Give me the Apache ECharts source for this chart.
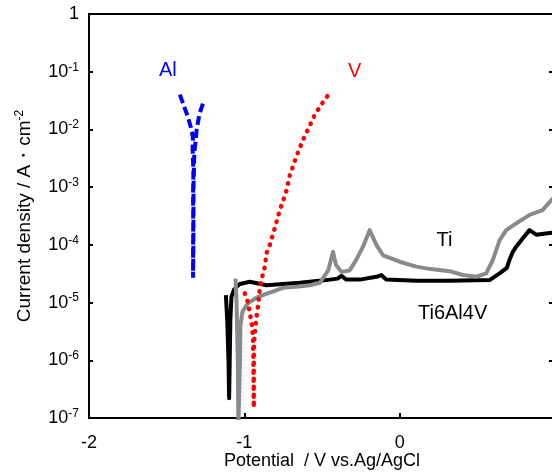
<!DOCTYPE html>
<html>
<head>
<meta charset="utf-8">
<script src="https://cdn.jsdelivr.net/npm/echarts@6/dist/echarts.min.js"></script>
<style>
  html, body { margin: 0; padding: 0; background: #fff; }
  #chart { width: 552px; height: 472px; }
</style>
</head>
<body>
<div id="chart"></div>
<script>
// potential (V vs. Ag/AgCl), current density (A/cm2)
const alCurve = [
  [-1.415, 0.040], [-1.39, 0.026], [-1.363, 0.0164], [-1.345, 0.011], [-1.331, 0.0074],
  [-1.333, 0.0044], [-1.328, 0.002], [-1.330, 0.0008], [-1.329, 2e-4], [-1.330, 8e-5],
  [-1.330, 2.7e-5], [-1.328, 1e-4], [-1.327, 1e-3], [-1.322, 0.004], [-1.315, 0.0058],
  [-1.307, 0.0098], [-1.29, 0.018], [-1.26, 0.032]
];
const vCurve = [
  [-0.997, 1.45e-5], [-0.975, 9.8e-6], [-0.965, 6.5e-6], [-0.954, 4.7e-6], [-0.948, 3.3e-6],
  [-0.944, 2.2e-6], [-0.941, 1e-6], [-0.939, 1.5e-7], [-0.939, 7.8e-7], [-0.938, 1.95e-6],
  [-0.926, 4.4e-6], [-0.918, 6.6e-6], [-0.911, 9.1e-6], [-0.90, 1.8e-5], [-0.89, 2.45e-5],
  [-0.868, 4.2e-5], [-0.857, 7.2e-5], [-0.836, 1e-4], [-0.804, 1.95e-4], [-0.772, 4e-4],
  [-0.733, 7.9e-4], [-0.707, 1.6e-3], [-0.665, 3.4e-3], [-0.622, 6.6e-3], [-0.547, 0.0178],
  [-0.50, 0.028], [-0.45, 0.043]
];
const tiCurve = [
  [-1.057, 2.6e-5], [-1.05, 1e-5], [-1.042, 1e-6], [-1.038, 8e-8], [-1.030, 8e-8],
  [-1.028, 1e-6], [-1.025, 4e-6], [-1.012, 7e-6], [-0.976, 9.8e-6], [-0.911, 1.26e-5],
  [-0.85, 1.45e-5], [-0.75, 1.8e-5], [-0.65, 1.9e-5], [-0.579, 2.0e-5], [-0.514, 2.2e-5],
  [-0.46, 3.6e-5], [-0.429, 7.6e-5], [-0.41, 4.5e-5], [-0.375, 3.4e-5], [-0.322, 3.6e-5],
  [-0.28, 5.5e-5], [-0.236, 9.3e-5], [-0.193, 1.8e-4], [-0.15, 1.0e-4], [-0.107, 6.6e-5],
  [0.0, 5.1e-5], [0.107, 4.2e-5], [0.2, 3.8e-5], [0.321, 3.5e-5], [0.407, 3.0e-5],
  [0.493, 2.8e-5], [0.557, 3.2e-5], [0.60, 5.5e-5], [0.643, 1.2e-4], [0.686, 1.8e-4],
  [0.75, 2.35e-4], [0.836, 3.3e-4], [0.92, 4.0e-4], [0.965, 5.5e-4], [1.0, 7e-4]
];
const ti64Curve = [
  [-1.119, 1.35e-5], [-1.11, 5e-6], [-1.102, 1e-6], [-1.098, 2.2e-7], [-1.094, 1e-6],
  [-1.09, 5e-6], [-1.083, 1.26e-5], [-1.065, 1.7e-5], [-1.051, 1.86e-5], [-1.029, 2.1e-5],
  [-0.965, 2.3e-5], [-0.857, 2.0e-5], [-0.75, 2.1e-5], [-0.643, 2.2e-5], [-0.472, 2.45e-5],
  [-0.40, 2.6e-5], [-0.375, 2.9e-5], [-0.343, 2.5e-5], [-0.257, 2.5e-5], [-0.15, 2.8e-5],
  [-0.118, 3.0e-5], [-0.086, 2.5e-5], [0.107, 2.4e-5], [0.32, 2.4e-5], [0.579, 2.45e-5],
  [0.643, 3.2e-5], [0.69, 4.0e-5], [0.707, 5.5e-5], [0.729, 7.6e-5], [0.75, 9.3e-5],
  [0.793, 1.3e-4], [0.836, 1.8e-4], [0.879, 1.5e-4], [0.965, 1.6e-4], [1.0, 1.65e-4]
];

const FONT = 'Liberation Sans, Arial, sans-serif';

function textMark(text, coord, color) {
  return {
    symbol: 'circle',
    symbolSize: 0,
    silent: true,
    data: [{ coord: coord, value: text }],
    label: {
      show: true,
      position: 'inside',
      formatter: text,
      color: color,
      fontSize: 20,
      fontFamily: FONT
    }
  };
}

const chart = echarts.init(document.getElementById('chart'));

const yTickLabel = {
  color: '#000',
  fontSize: 18,
  fontFamily: FONT,
  margin: 10,
  formatter: function (v) {
    const e = Math.round(Math.log10(v));
    return e === 0 ? '1' : '10{s|' + e + '}';
  },
  rich: {
    s: { fontSize: 12, fontFamily: FONT, color: '#000', padding: [0, 0, 9, 0] }
  }
};

chart.setOption({
  animation: false,
  grid: {
    left: 89, right: -3, top: 14, bottom: 54,
    outerBoundsMode: 'none',
    containLabel: false,
    show: true, borderColor: '#000', borderWidth: 2
  },
  xAxis: {
    type: 'value',
    min: -2, max: 1, interval: 1,
    name: 'Potential  / V vs.Ag/AgCl',
    nameLocation: 'middle',
    nameGap: 34,
    nameMoveOverlap: false,
    nameTextStyle: { color: '#000', fontSize: 18, fontFamily: FONT },
    axisLine: { onZero: false, lineStyle: { color: '#000', width: 2 } },
    axisTick: { inside: true, length: 5, lineStyle: { color: '#000', width: 2 } },
    axisLabel: { color: '#000', fontSize: 18, fontFamily: FONT, margin: 16, showMaxLabel: false },
    splitLine: { show: false }
  },
  yAxis: [{
    type: 'log', logBase: 10, min: 1e-7, max: 1,
    name: 'Current density / A・cm{s|-2}',
    nameLocation: 'middle',
    nameGap: 53,
    nameMoveOverlap: false,
    nameTextStyle: {
      color: '#000', fontSize: 19, fontFamily: FONT,
      rich: { s: { fontSize: 12, fontFamily: FONT, color: '#000', padding: [0, 0, 10, 0] } }
    },
    axisLine: { onZero: false, lineStyle: { color: '#000', width: 2 } },
    axisTick: { inside: true, length: 4, lineStyle: { color: '#000', width: 2 } },
    axisLabel: yTickLabel,
    splitLine: { show: false }
  }, {
    type: 'log', logBase: 10, min: 1e-7, max: 1,
    position: 'right',
    axisLine: { show: false, onZero: false },
    axisTick: { inside: true, length: 6, lineStyle: { color: '#000', width: 2 } },
    axisLabel: { show: false },
    splitLine: { show: false }
  }],
  series: [
    {
      name: 'Ti6Al4V', type: 'line', data: ti64Curve, showSymbol: false,
      lineStyle: { color: '#000', width: 4, join: 'round' },
      markPoint: textMark('Ti6Al4V', [0.341, 6.6e-6], '#000')
    },
    {
      name: 'Ti', type: 'line', data: tiCurve, showSymbol: false,
      lineStyle: { color: '#8a8a8a', width: 4, join: 'round' },
      markPoint: textMark('Ti', [0.289, 1.2e-4], '#000')
    },
    {
      name: 'V', type: 'line', data: vCurve, showSymbol: false,
      lineStyle: { color: '#ff0000', width: 4.5, type: [0.5, 7.5], cap: 'round' },
      markPoint: textMark('V', [-0.289, 0.099], '#ff0000')
    },
    {
      name: 'Al', type: 'line', data: alCurve, showSymbol: false,
      lineStyle: { color: '#0000ff', width: 4, type: [9, 4] },
      markPoint: textMark('Al', [-1.492, 0.107], '#0000ff')
    }
  ]
});
</script>
</body>
</html>
